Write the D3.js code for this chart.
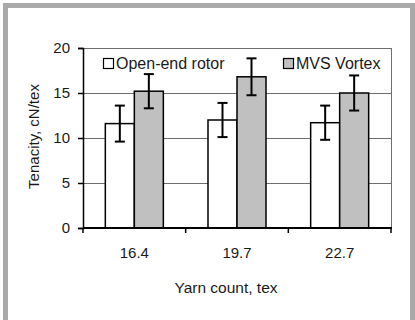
<!DOCTYPE html>
<html><head><meta charset="utf-8">
<script src="https://cdn.jsdelivr.net/npm/d3@7"></script>
<style>html,body{margin:0;padding:0;background:#fff;}svg{display:block;font-family:"Liberation Sans",Arial,sans-serif;}</style>
</head><body>
<svg id="c" width="415" height="320"></svg>
<script>
const categories = ["16.4", "19.7", "22.7"];
const seriesNames = ["Open-end rotor", "MVS Vortex"];
const openEnd = [11.6, 12.0, 11.7];
const openEndErr = [2.0, 1.9, 1.9];
const vortex = [15.2, 16.8, 15.0];
const vortexErr = [1.9, 2.05, 1.95];
const yTicks = [0, 5, 10, 15, 20];
const xTitle = "Yarn count, tex";
const yTitle = "Tenacity, cN/tex";

const svg = d3.select("#c");
const fills = ["#ffffff", "#c0c0c0"];
// outer frame
svg.append("rect").attr("x", 5.5).attr("y", 5.5).attr("width", 407).attr("height", 340)
  .attr("fill", "none").attr("stroke", "#a9a9a9").attr("stroke-width", 5);

const L = 83, R = 391, T = 48, B = 228;
const x0 = d3.scaleBand().domain(categories).range([L, R]).paddingInner(0.435).paddingOuter(0.2175);
const x1 = d3.scaleBand().domain(seriesNames).range([0, x0.bandwidth()]);
const y = d3.scaleLinear().domain([0, 20]).range([B, T]);

// gridlines
svg.append("g").selectAll("line").data(yTicks.filter(t => t > 0)).join("line")
  .attr("x1", L).attr("x2", R).attr("y1", d => y(d) + 0.5).attr("y2", d => y(d) + 0.5)
  .attr("stroke", "#6e6e6e").attr("stroke-width", 1);
svg.append("line").attr("x1", R + 0.5).attr("x2", R + 0.5).attr("y1", y(20)).attr("y2", y(0))
  .attr("stroke", "#6e6e6e");

const data = categories.map((c, i) => [
  {cat: c, s: seriesNames[0], v: openEnd[i], e: openEndErr[i], f: fills[0]},
  {cat: c, s: seriesNames[1], v: vortex[i], e: vortexErr[i], f: fills[1]}
]).flat();

svg.append("g").selectAll("rect").data(data).join("rect")
  .attr("x", d => x0(d.cat) + x1(d.s)).attr("width", x1.bandwidth())
  .attr("y", d => y(d.v)).attr("height", d => y(0) - y(d.v))
  .attr("fill", d => d.f).attr("stroke", "#000").attr("stroke-width", 1.5);

// error bars
const eg = svg.append("g").attr("stroke", "#000").attr("stroke-width", 2);
data.forEach(d => {
  const cx = x0(d.cat) + x1(d.s) + x1.bandwidth() / 2;
  eg.append("line").attr("x1", cx).attr("x2", cx).attr("y1", y(d.v + d.e)).attr("y2", y(d.v - d.e));
  eg.append("line").attr("x1", cx - 5).attr("x2", cx + 5).attr("y1", y(d.v + d.e)).attr("y2", y(d.v + d.e));
  eg.append("line").attr("x1", cx - 5).attr("x2", cx + 5).attr("y1", y(d.v - d.e)).attr("y2", y(d.v - d.e));
});

// axes
const yAxis = d3.axisLeft(y).tickValues(yTicks).tickSize(5).tickPadding(8);
const gy = svg.append("g").attr("transform", `translate(${L},0)`).call(yAxis);
gy.select(".domain").attr("stroke", "#000").attr("stroke-width", 1.5);
gy.selectAll(".tick line").attr("stroke", "#000").attr("stroke-width", 1.5);
gy.selectAll("text").attr("font-size", 15).attr("fill", "#1a1a1a").attr("font-family", "Liberation Sans, Arial, sans-serif");

const xAxis = d3.axisBottom(x0).tickSize(0).tickPadding(19);
const gx = svg.append("g").attr("transform", `translate(0,${B})`).call(xAxis);
gx.select(".domain").remove();
gx.selectAll("text").attr("font-size", 15).attr("fill", "#1a1a1a").attr("font-family", "Liberation Sans, Arial, sans-serif");
svg.append("line").attr("x1", L).attr("x2", R + 1).attr("y1", B).attr("y2", B).attr("stroke", "#000").attr("stroke-width", 2);
const bounds = [L].concat(categories.map(c => x0(c) + x0.bandwidth() + x0.step() * 0.435 / 2));
svg.append("g").selectAll("line").data(bounds).join("line")
  .attr("x1", d => d).attr("x2", d => d).attr("y1", B).attr("y2", B + 5)
  .attr("stroke", "#000").attr("stroke-width", 1.5);

// titles
svg.append("text").attr("x", 226).attr("y", 293).attr("text-anchor", "middle")
  .attr("font-size", 15.5).attr("fill", "#1a1a1a").text(xTitle);
svg.append("text").attr("transform", `translate(38.5,136.5) rotate(-90)`).attr("text-anchor", "middle")
  .attr("font-size", 15).attr("fill", "#1a1a1a").text(yTitle);

// legend
const legX = [103, 283];
seriesNames.forEach((s, i) => {
  svg.append("rect").attr("x", legX[i] + 0.5).attr("y", 58.5).attr("width", 10).attr("height", 10)
    .attr("fill", fills[i]).attr("stroke", "#000").attr("stroke-width", 1.2);
  svg.append("text").attr("x", legX[i] + 13).attr("y", 69).attr("font-size", 16)
    .attr("fill", "#1a1a1a").text(s);
});
</script>
</body></html>
